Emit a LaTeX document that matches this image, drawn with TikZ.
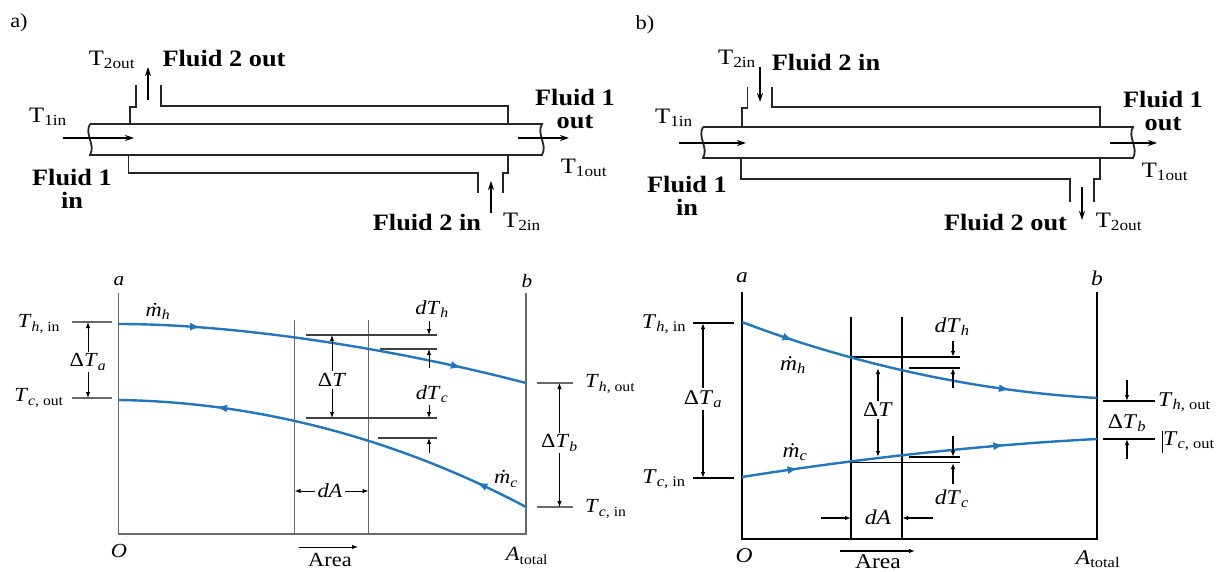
\documentclass[tikz,border=0pt]{standalone}
\usepackage{fontspec}
\setmainfont{Liberation Serif}[FakeStretch=1.12]
\usetikzlibrary{arrows.meta,decorations.markings}
\definecolor{flowblue}{RGB}{33,118,189}
\definecolor{axisgray}{RGB}{105,105,105}
\newcommand{\Tlab}[2]{\textit{T}\textsubscript{\textit{#1}, #2}}
\newcommand{\Tpipe}[1]{T\textsubscript{#1}}
\newcommand{\DTlab}[1]{Δ\textit{T}\textsubscript{\textit{#1}}}

\begin{document}
\begin{tikzpicture}[x=1pt,y=-1pt,
  pipe/.style={line width=1.8pt, draw=black!85},
  flow/.style={line width=1.3pt, -{Stealth[length=9pt,width=6pt]}},
  fluid/.style={font=\fontsize{23.5}{23}\selectfont\bfseries, align=center, inner sep=0pt},
  temp/.style={font=\fontsize{22}{26}\selectfont, inner sep=0pt},
  axa/.style={line width=1.2pt, draw=axisgray},
  axb/.style={line width=1.8pt, draw=black},
  dim/.style={line width=1pt, -{Latex[length=6pt,width=4.5pt]}},
  glab/.style={font=\fontsize{20}{22}\selectfont, inner sep=2pt},
  blab/.style={font=\fontsize{21}{23}\selectfont, inner sep=2pt},
  curve/.style={line width=2.4pt, draw=flowblue},
  marks/.style n args={2}{decoration={markings,
    mark=at position #1 with {\arrow[flowblue]{Latex[length=11pt,width=8pt]}},
    mark=at position #2 with {\arrow[flowblue]{Latex[length=11pt,width=8pt]}}}, postaction=decorate},
  rmarks/.style n args={2}{decoration={markings,
    mark=at position #1 with {\arrowreversed[flowblue]{Latex[length=11pt,width=8pt]}},
    mark=at position #2 with {\arrowreversed[flowblue]{Latex[length=11pt,width=8pt]}}}, postaction=decorate}]

\useasboundingbox (0,0) rectangle (1227,572);

% a) counter flow exchanger
\node (parta) [temp, font=\fontsize{20}{24}\selectfont] at (19,23) {a)};
\draw[pipe] (90,124) -- (542,124) .. controls (536,134) and (548,145) .. (542,155) -- (90,155) .. controls (96,145) and (84,134) .. (90,124);
\draw[pipe] (130,124) -- (130,107) -- (136,107) -- (136,85);
\draw[pipe] (161,85) -- (161,106) -- (508,106) -- (508,124);
\draw[pipe] (128.5,155) -- (128.5,173) -- (478,173) -- (478,193);
\draw[pipe] (508,155) -- (508,173) -- (503,173) -- (503,193);
\draw[flow] (63,138) -- (134,138);
\draw[flow] (518,138) -- (569,138);
\draw[flow] (148,100) -- (148,67);
\draw[flow] (491,213) -- (491,181);

\node (atwoout) [temp] at (112,60) {\Tpipe{2out}};
\node (afluidtwoout) [fluid] at (224,58) {Fluid 2 out};
\node (atonein) [temp] at (48,117) {\Tpipe{1in}};
\node (afluidonein) [fluid] at (72,189) {Fluid 1\\in};
\node (afluidoneout) [fluid] at (575,109) {Fluid 1\\out};
\node (atoneout) [temp] at (584,168) {\Tpipe{1out}};
\node (afluidtwoin) [fluid] at (427,222) {Fluid 2 in};
\node (attwoin) [temp] at (522,222) {\Tpipe{2in}};

% b) parallel flow exchanger
\node (partb) [temp, font=\fontsize{20}{24}\selectfont] at (645,25) {b)};
\draw[pipe] (703,127) -- (1133,127) .. controls (1127,137) and (1139,148) .. (1133,158) -- (703,158) .. controls (709,148) and (697,137) .. (703,127);
\draw[pipe] (742,127) -- (742,108) -- (747.5,108) -- (747.5,87);
\draw[pipe] (772,87) -- (772,107) -- (1100,107) -- (1100,127);
\draw[pipe] (741,158) -- (741,179) -- (1070,179) -- (1070,202);
\draw[pipe] (1100,158) -- (1100,179) -- (1094,179) -- (1094,202);
\draw[flow] (679,143) -- (746,143);
\draw[flow] (1110,143) -- (1157,143);
\draw[flow] (760,67) -- (760,102);
\draw[flow] (1082,187) -- (1082,220);

\node (btwoin) [temp] at (737,59) {\Tpipe{2in}};
\node (bfluidtwoin) [fluid] at (826,62) {Fluid 2 in};
\node (btonein) [temp] at (674,118) {\Tpipe{1in}};
\node (bfluidonein) [fluid] at (687,196) {Fluid 1\\in};
\node (bfluidoneout) [fluid] at (1163,111) {Fluid 1\\out};
\node (btoneout) [temp] at (1165,172) {\Tpipe{1out}};
\node (bfluidtwoout) [fluid] at (1005.5,222) {Fluid 2 out};
\node (bttwoout) [temp] at (1119,222) {\Tpipe{2out}};

% a) temperature profile
\draw[axa] (118.6,293) -- (118.6,534) -- (526,534) -- (526,293);
\draw[axa] (294.6,320) -- (294.6,534);
\draw[axa] (368.5,320) -- (368.5,534);
\draw[axa] (72,322) -- (112,322);
\draw[axa] (72,398) -- (112,398);
\draw[axa] (537,383) -- (573,383);
\draw[axa] (537,507) -- (573,507);
\draw[axa, draw=black!75] (306,335) -- (437,335);
\draw[axa, draw=black!75] (379.6,349) -- (437,349);
\draw[axa, draw=black!75] (306,418) -- (437,418);
\draw[axa, draw=black!75] (377.6,438) -- (437,438);

\draw[curve, marks={0.2}{0.84}] (118.6,324) .. controls (240,324) and (400,350) .. (526,383);
\draw[curve, rmarks={0.23}{0.87}] (118.6,400) .. controls (260,402) and (400,440) .. (526,507);

\node (aa) [glab, font=\fontsize{19}{20}\selectfont\itshape] at (119,281) {a};
\node (ab) [glab, font=\fontsize{19}{20}\selectfont\itshape] at (527,281) {b};
\node (ao) [glab, font=\fontsize{20}{20}\selectfont\itshape] at (119,551) {O};
\node (aatot) [glab] at (527,556) {\textit{A}\textsubscript{total}};
\node (athin) [glab] at (39,324) {\Tlab{h}{in}};
\node (atcout) [glab] at (39,398) {\Tlab{c}{out}};
\node (athout) [glab, anchor=west] at (583,384) {\Tlab{h}{out}};
\node (atcin) [glab, anchor=west] at (583,509) {\Tlab{c}{in}};
\node (amh) [glab] at (158,311) {\textit{\.{m}}\textsubscript{\textit{h}}};
\node (amc) [glab] at (506,479) {\textit{\.{m}}\textsubscript{\textit{c}}};

\node (adta) [glab] at (88,362) {\DTlab{a}};
\draw[dim] (adta) -- (88,322);
\draw[dim] (adta) -- (88,398);
\node (adtb) [glab] at (559.5,443) {\DTlab{b}};
\draw[dim] (adtb) -- (559.5,383);
\draw[dim] (adtb) -- (559.5,507);
\node (adt) [glab] at (332,380) {Δ\textit{T}};
\draw[dim] (adt) -- (332,335);
\draw[dim] (adt) -- (332,418);

\node (adth) [glab] at (432,309) {\textit{dT}\textsubscript{\textit{h}}};
\draw[dim] (429,321) -- (429,335);
\draw[dim] (429,368) -- (429,349);
\node (adtc) [glab] at (432,394) {\textit{dT}\textsubscript{\textit{c}}};
\draw[dim] (429,405) -- (429,418);
\draw[dim] (429,453) -- (429,438);

\node (ada) [glab] at (330,491) {\textit{dA}};
\draw[dim] (ada) -- (294.6,491);
\draw[dim] (ada) -- (368.5,491);
\node (aarea) [glab] at (330,560) {Area};
\draw[dim] (298.5,547) -- (358,547);

% b) temperature profile
\draw[axb] (742,292) -- (742,539) -- (1097,539) -- (1097,292);
\draw[axb] (851,317) -- (851,539);
\draw[axb] (902,317) -- (902,539);
\draw[axb] (693,323) -- (734,323);
\draw[axb] (693,478) -- (734,478);
\draw[axb] (1103,401) -- (1155,401);
\draw[axb] (1103,439) -- (1155,439);
\draw[axb, line width=1.4pt] (851,357) -- (960,357);
\draw[axb, line width=1.4pt] (909,368) -- (960,368);
\draw[axb, line width=1.4pt] (909,457) -- (960,457);
\draw[axb, line width=1.4pt] (851,462.5) -- (960,462.5);

\draw[curve, marks={0.15}{0.76}] (742,322) .. controls (820,352) and (950,390) .. (1097,398);
\draw[curve, marks={0.16}{0.74}] (742,477) .. controls (830,463) and (960,446) .. (1097,439);

\node (ba) [blab, font=\fontsize{21}{22}\selectfont\itshape] at (742,278) {a};
\node (bb) [blab, font=\fontsize{21}{22}\selectfont\itshape] at (1097,278) {b};
\node (bo) [blab, font=\fontsize{21}{22}\selectfont\itshape] at (744,556) {O};
\node (batot) [blab] at (1098,559) {\textit{A}\textsubscript{total}};
\node (bthin) [blab] at (664,324) {\Tlab{h}{in}};
\node (btcin) [blab] at (664,479) {\Tlab{c}{in}};
\node (bthout) [blab, anchor=west] at (1156,402) {\Tlab{h}{out}};
\node (btcout) [blab, anchor=west] at (1161,441) {\Tlab{c}{out}};
\draw[line width=1pt] (1162,431) -- (1162,453);
\node (bmh) [blab] at (793,365) {\textit{\.{m}}\textsubscript{\textit{h}}};
\node (bmc) [blab] at (795,452) {\textit{\.{m}}\textsubscript{\textit{c}}};

\node (bdta) [blab] at (703,399) {\DTlab{a}};
\draw[dim, line width=1.5pt] (bdta) -- (703,323);
\draw[dim, line width=1.5pt] (bdta) -- (703,478);
\node (bdt) [blab] at (878,410) {Δ\textit{T}};
\draw[dim, line width=1.5pt] (bdt) -- (878,368);
\draw[dim, line width=1.5pt] (bdt) -- (878,457);
\node (bdtb) [blab] at (1127,423) {\DTlab{b}};
\draw[dim, line width=1.5pt] (1127,380) -- (1127,401);
\draw[dim, line width=1.5pt] (1127,459) -- (1127,439);

\node (bdth) [blab] at (952,327) {\textit{dT}\textsubscript{\textit{h}}};
\draw[dim, line width=1.5pt] (953,341) -- (953,357);
\draw[dim, line width=1.5pt] (953,388) -- (953,368);
\node (bdtc) [blab] at (952,499) {\textit{dT}\textsubscript{\textit{c}}};
\draw[dim, line width=1.5pt] (953,436) -- (953,457);
\draw[dim, line width=1.5pt] (953,484) -- (953,463);

\node (bda) [blab] at (878,517) {\textit{dA}};
\draw[dim, line width=1.5pt] (820.5,518) -- (851,518);
\draw[dim, line width=1.5pt] (932.7,518) -- (902,518);
\node (barea) [blab, inner sep=0pt] at (878,562) {Area};
\draw[dim, line width=1.5pt] (840,551) -- (915,551);

\end{tikzpicture}
\end{document}
